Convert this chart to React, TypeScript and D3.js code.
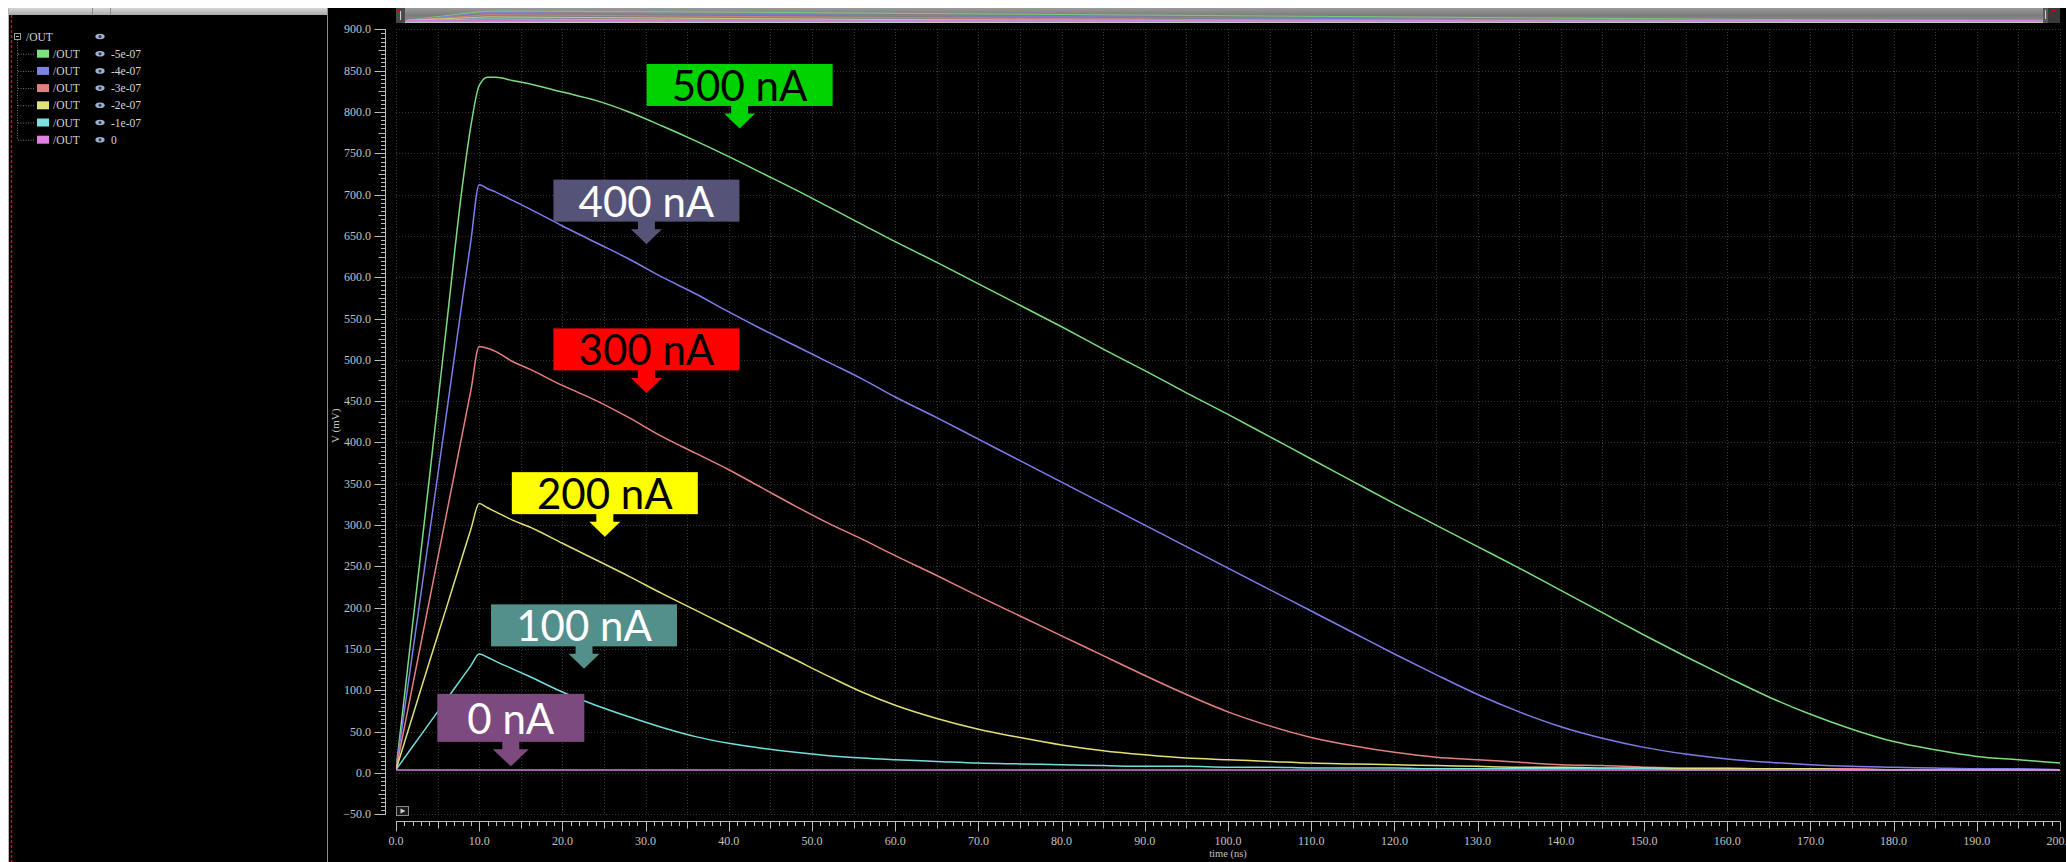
import React from "react";
import * as d3 from "d3";

// ---- data (time in ns, voltage in mV) ----
const time = [0, 2, 4, 6, 8, 9, 10, 11, 12, 14, 16, 20, 24, 28, 32, 36, 40, 44, 48, 52, 56, 60, 65, 70, 75, 80, 85, 90, 95, 100, 105, 110, 115, 120, 125, 130, 135, 140, 145, 150, 155, 160, 165, 170, 175, 180, 185, 190, 195, 200];

const out500 = [4, 180, 356, 535, 712, 783, 832, 842, 842, 838, 834, 824, 814, 800, 783, 765, 746, 726, 706, 685, 664, 643, 618, 592, 566, 540, 513, 487, 460, 434, 407, 380, 353, 326, 300, 274, 248, 221, 194, 167, 141, 116, 92, 71, 53, 38, 28, 20, 16, 12];
const out400 = [4, 146, 288, 430, 574, 644, 712, 707, 703, 693, 683, 662, 642, 622, 600, 580, 558, 537, 517, 497, 477, 455, 430, 404, 378, 352, 326, 300, 274, 248, 222, 196, 170, 144, 119, 95, 74, 56, 42, 31, 23, 17, 13, 10, 8, 7, 6, 5, 5, 4];
const out300 = [4, 106, 208, 310, 412, 463, 516, 514, 510, 498, 489, 469, 451, 430, 407, 387, 367, 345, 323, 302, 283, 263, 239, 214, 190, 166, 142, 118, 95, 74, 57, 43, 33, 25, 19, 16, 13, 10, 9, 7, 6, 6, 5, 5, 5, 4, 4, 4, 4, 4];
const out200 = [4, 69, 134, 198, 263, 295, 326, 321, 316, 306, 298, 278, 258, 238, 217, 197, 177, 157, 137, 117, 98, 82, 66, 53, 43, 34, 27, 22, 18, 16, 14, 12, 11, 10, 9, 8, 7, 7, 6, 6, 5, 5, 5, 5, 4, 4, 4, 4, 4, 4];
const out100 = [4, 32, 60, 88, 116, 130, 144, 140, 135, 126, 117, 98, 82, 68, 55, 44, 36, 30, 25, 21, 18, 16, 14, 12, 11, 10, 9, 8, 8, 7, 7, 6, 6, 6, 5, 5, 5, 5, 5, 5, 4, 4, 4, 4, 4, 4, 4, 4, 4, 4];
const out0 = [3.6, 3.6, 3.6, 3.6, 3.6, 3.6, 3.6, 3.6, 3.6, 3.6, 3.6, 3.6, 3.6, 3.6, 3.6, 3.6, 3.6, 3.6, 3.6, 3.6, 3.6, 3.6, 3.6, 3.6, 3.6, 3.6, 3.6, 3.6, 3.6, 3.6, 3.6, 3.6, 3.6, 3.6, 3.6, 3.6, 3.6, 3.6, 3.6, 3.6, 3.6, 3.6, 3.6, 3.6, 3.6, 3.6, 3.6, 3.6, 3.6, 3.6];

const seriesValues = [out500, out400, out300, out200, out100, out0];
const seriesNames = ["-5e-07", "-4e-07", "-3e-07", "-2e-07", "-1e-07", "0"];
const seriesColors = ["#7ddc7d", "#7d7deb", "#e58080", "#e0e074", "#74dede", "#e078e0"];
const swatchColors = ["#80e080", "#8080e0", "#e08080", "#e0e080", "#80e0e0", "#e080e0"];

const yTickValues = [-50, 0, 50, 100, 150, 200, 250, 300, 350, 400, 450, 500, 550, 600, 650, 700, 750, 800, 850, 900];
const xTickValues = [0, 10, 20, 30, 40, 50, 60, 70, 80, 90, 100, 110, 120, 130, 140, 150, 160, 170, 180, 190, 200];

// annotation callouts: arrow tip anchored in data space
const labelText = ["500 nA", "400 nA", "300 nA", "200 nA", "100 nA", "0 nA"];
const labelT = [41.3, 30.1, 30.1, 25.1, 22.6, 13.8];
const labelV = [780, 640, 460, 286, 126, 8];
const labelFill = ["#00d200", "#555378", "#ff0000", "#ffff00", "#538f8b", "#7d4a80"];
const labelTextColor = ["#000", "#fff", "#000", "#000", "#fff", "#fff"];

const W = 2066;
const H = 862;

function Eye({ cx, cy }: { cx: number; cy: number }) {
  return (
    <g>
      <ellipse cx={cx} cy={cy} rx={4.6} ry={2.8} fill="#9fb3cf" />
      <circle cx={cx} cy={cy} r={1.5} fill="#2c3550" />
    </g>
  );
}

export default function App() {
  const x = d3.scaleLinear().domain([0, 200]).range([396, 2060]);
  const y = d3.scaleLinear().domain([-50, 900]).range([814.3, 29.3]);

  const mx = d3.scaleLinear().domain([0, 200]).range([406, 2046]);
  const my = d3.scaleLinear().domain([0, 900]).range([20.5, 10.5]);

  const line = d3
    .line<number>()
    .x((_, i) => x(time[i]))
    .y((d) => y(d))
    .curve(d3.curveMonotoneX);

  const miniLine = d3
    .line<number>()
    .x((_, i) => mx(time[i]))
    .y((d) => my(d))
    .curve(d3.curveMonotoneX);

  const fmt = d3.format(".1f");
  const yMinor = d3.range(-50, 900.1, 5);
  const xMinor = d3.range(0, 200.1, 1);
  const xGrid = d3.range(0, 200.1, 5);

  const tickFont = "'Liberation Serif', 'DejaVu Serif', serif";
  const tickColor = "#c2c2c2";

  const rowY = (i: number) => 53.7 + i * 17.2;

  return (
    <svg
      width={W}
      height={H}
      style={{ position: "absolute", left: 0, top: 0, display: "block" }}
    >
      <defs>
        <linearGradient id="ovbar" x1="0" y1="0" x2="0" y2="1">
          <stop offset="0" stopColor="#9a9a9a" />
          <stop offset="0.5" stopColor="#7c7c7c" />
          <stop offset="0.85" stopColor="#8a8a8a" />
          <stop offset="1" stopColor="#d8d8d8" />
        </linearGradient>
        <linearGradient id="hdr" x1="0" y1="0" x2="0" y2="1">
          <stop offset="0" stopColor="#d6d6d6" />
          <stop offset="1" stopColor="#a9a9a9" />
        </linearGradient>
        <clipPath id="plotclip">
          <rect x={396} y={20} width={1666} height={800} />
        </clipPath>
        <clipPath id="miniclip">
          <rect x={405} y={8} width={1643} height={15} />
        </clipPath>
      </defs>

      {/* page background */}
      <rect x={0} y={0} width={W} height={H} fill="#ffffff" />
      <rect x={8} y={8} width={W - 8} height={H - 8} fill="#000000" />

      {/* left panel */}
      <rect x={8} y={8} width={319} height={7} fill="url(#hdr)" />
      <line x1={92.5} y1={8} x2={92.5} y2={15} stroke="#8a8a8a" />
      <line x1={110.5} y1={8} x2={110.5} y2={15} stroke="#8a8a8a" />
      <line x1={8.5} y1={8} x2={8.5} y2={H} stroke="#b8b8b8" />
      <line x1={11.5} y1={15} x2={11.5} y2={H} stroke="#e00010" strokeWidth={1.4} strokeDasharray="3 2" />
      <line x1={327.5} y1={8} x2={327.5} y2={H} stroke="#8c8c8c" />

      {/* legend tree */}
      <rect x={14.5} y={33.5} width={6} height={6} fill="none" stroke="#9a9a9a" />
      <line x1={16} y1={36.5} x2={19} y2={36.5} stroke="#bbb" />
      <text x={26} y={40.5} fontFamily={tickFont} fontSize={11.5} fill="#d4d4d4">/OUT</text>
      <Eye cx={100} cy={36.5} />
      <line x1={17.5} y1={40} x2={17.5} y2={rowY(5)} stroke="#777" strokeDasharray="1 1.5" />
      {seriesNames.map((n, i) => (
        <g key={n}>
          <line x1={18} y1={rowY(i) + 0.5} x2={34} y2={rowY(i) + 0.5} stroke="#777" strokeDasharray="1 1.5" />
          <rect x={37} y={rowY(i) - 4} width={12} height={8} fill={swatchColors[i]} />
          <text x={53} y={rowY(i) + 4} fontFamily={tickFont} fontSize={11.5} fill="#d4d4d4">/OUT</text>
          <Eye cx={100} cy={rowY(i)} />
          <text x={111} y={rowY(i) + 4} fontFamily={tickFont} fontSize={11.5} fill="#d4d4d4">{n}</text>
        </g>
      ))}

      {/* overview bar */}
      <rect x={396} y={8} width={9} height={15} fill="#4a4a4a" />
      <path d="M397,9 L401,9 L397,13 Z" fill="#e00000" />
      <line x1={400.5} y1={11} x2={400.5} y2={20} stroke="#cfcfcf" />
      <rect x={405} y={8} width={1643} height={15} fill="url(#ovbar)" />
      <g clipPath="url(#miniclip)">
        {seriesValues.map((vals, i) => (
          <path key={i} d={miniLine(vals) || ""} fill="none" stroke={seriesColors[i]} strokeWidth={1} opacity={0.8} />
        ))}
      </g>
      <rect x={2043} y={8} width={5} height={15} fill="#5a5a5a" />
      <line x1={2045.5} y1={10} x2={2045.5} y2={19} stroke="#d0d0d0" />
      <rect x={2048} y={8} width={12} height={15} fill="#3a3a3a" />
      <path d="M2052,9 L2056,10.5 L2052,12 Z" fill="#e00000" />

      {/* grid */}
      <g stroke="#363636" strokeWidth={1} strokeDasharray="1 2">
        {yTickValues.map((v) => (
          <line key={"gy" + v} x1={396} x2={2060} y1={Math.round(y(v)) + 0.5} y2={Math.round(y(v)) + 0.5} />
        ))}
        {xGrid.map((t) => (
          <line key={"gx" + t} x1={Math.round(x(t)) + 0.5} x2={Math.round(x(t)) + 0.5} y1={29} y2={815} />
        ))}
      </g>

      {/* y axis */}
      <line x1={385.5} y1={29} x2={385.5} y2={815} stroke="#bdbdbd" />
      {yMinor.map((v) => {
        const major = v % 50 === 0;
        const mid = !major && v % 25 === 0;
        const len = major ? 11 : mid ? 7 : 4.5;
        const yy = Math.round(y(v)) + 0.5;
        return <line key={"ym" + v} x1={385.5 - len} x2={385.5} y1={yy} y2={yy} stroke="#bdbdbd" />;
      })}
      {yTickValues.map((v) => (
        <text
          key={"yl" + v}
          x={371}
          y={y(v) + 4}
          textAnchor="end"
          fontFamily={tickFont}
          fontSize={12}
          fill={tickColor}
        >
          {fmt(v)}
        </text>
      ))}
      <text
        transform={`translate(339, ${(y(-50) + y(900)) / 2 + 4}) rotate(-90)`}
        textAnchor="middle"
        fontFamily={tickFont}
        fontSize={11}
        fill={tickColor}
      >
        V (mV)
      </text>

      {/* x axis */}
      <line x1={396} y1={821.5} x2={2060} y2={821.5} stroke="#bdbdbd" />
      {xMinor.map((t) => {
        const major = t % 10 === 0;
        const mid = !major && t % 5 === 0;
        const len = major ? 10 : mid ? 7 : 4.5;
        const xx = Math.round(x(t)) + 0.5;
        return <line key={"xm" + t} x1={xx} x2={xx} y1={821.5} y2={821.5 + len} stroke="#bdbdbd" />;
      })}
      {xTickValues.map((t) => (
        <text
          key={"xl" + t}
          x={x(t)}
          y={845}
          textAnchor="middle"
          fontFamily={tickFont}
          fontSize={12}
          fill={tickColor}
        >
          {fmt(t)}
        </text>
      ))}
      <text x={(x(0) + x(200)) / 2} y={857} textAnchor="middle" fontFamily={tickFont} fontSize={10.5} fill={tickColor}>
        time (ns)
      </text>

      {/* play button */}
      <rect x={396.5} y={806.5} width={12} height={9} fill="#1a1a1a" stroke="#8a8a8a" />
      <path d="M400.5,808.5 L405.5,811 L400.5,813.5 Z" fill="#cfcfcf" />

      {/* curves */}
      <g clipPath="url(#plotclip)">
        {seriesValues.map((vals, i) => (
          <path key={"c" + i} d={line(vals) || ""} fill="none" stroke={seriesColors[i]} strokeWidth={1.5} />
        ))}
      </g>

      {/* annotations */}
      {labelText.map((txt, i) => {
        const tipX = x(labelT[i]);
        const tipY = y(labelV[i]);
        const small = txt.length < 6;
        const boxW = small ? 147 : 186;
        const boxH = small ? 48 : 42;
        const headW = small ? 36 : 31;
        const headH = small ? 17 : 15;
        const stemW = 17;
        const stemH = 7.5;
        const headTop = tipY - headH;
        const boxBottom = headTop - stemH;
        const boxTop = boxBottom - boxH;
        const arrow = `M${tipX - stemW / 2},${boxBottom - 1} L${tipX + stemW / 2},${boxBottom - 1} L${tipX + stemW / 2},${headTop} L${tipX + headW / 2},${headTop} L${tipX},${tipY} L${tipX - headW / 2},${headTop} L${tipX - stemW / 2},${headTop} Z`;
        return (
          <g key={"lab" + i}>
            <rect x={tipX - boxW / 2} y={boxTop} width={boxW} height={boxH} fill={labelFill[i]} />
            <path d={arrow} fill={labelFill[i]} />
            <text
              x={tipX}
              y={boxTop + boxH / 2 + 16}
              textAnchor="middle"
              fontFamily="Lato, 'Open Sans', sans-serif"
              fontSize={42}
              fill={labelTextColor[i]}
            >
              {txt}
            </text>
          </g>
        );
      })}
    </svg>
  );
}
